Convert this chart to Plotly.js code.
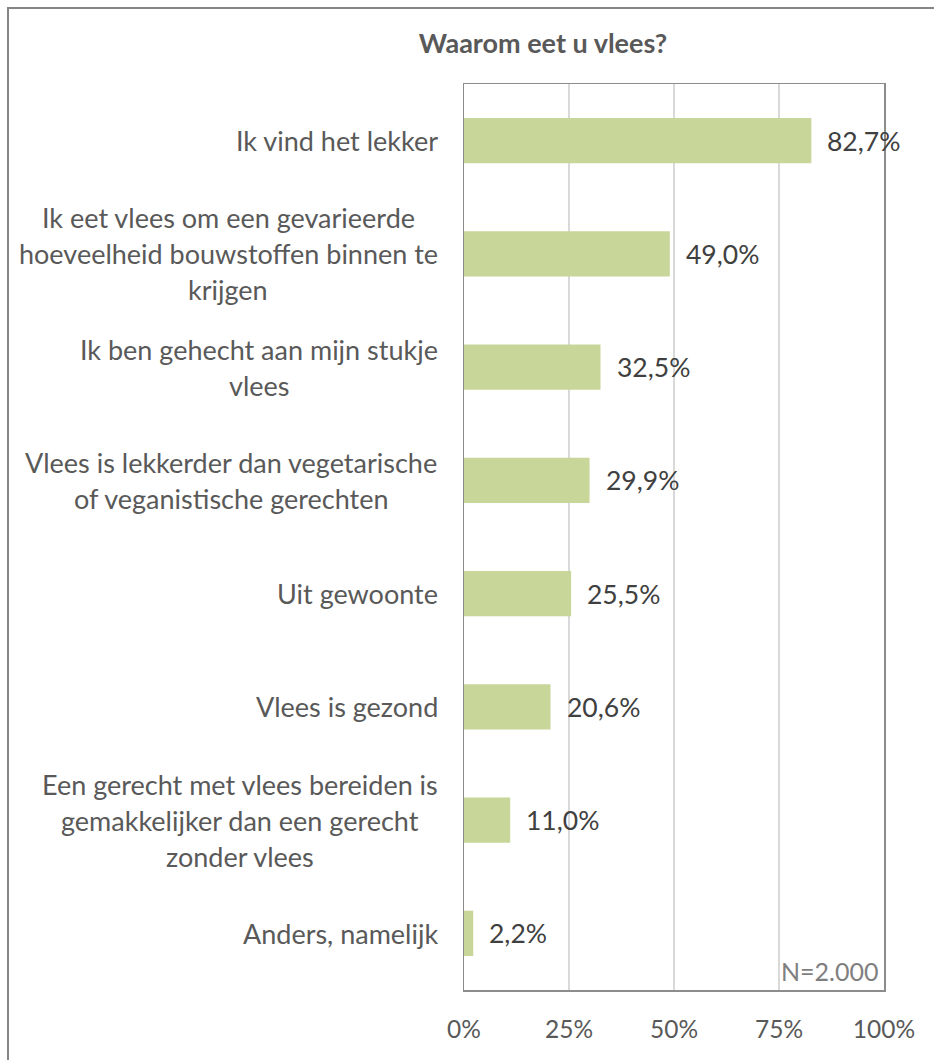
<!DOCTYPE html>
<html>
<head>
<meta charset="utf-8">
<script src="https://cdn.plot.ly/plotly-3.0.1.min.js"></script>
<style>
  html, body { margin:0; padding:0; background:#fff; overflow:hidden; }
  #chart { position:absolute; left:0; top:0; width:934px; height:1060px; }
  #frame { position:absolute; left:7px; top:7px; width:1000px; height:1100px;
           border:2px solid #858585; pointer-events:none; box-sizing:border-box; }
</style>
</head>
<body>
<div id="chart"></div>
<div id="frame"></div>
<script>
const chartTitle = "Waarom eet u vlees?";
const categories = [
  ["Ik vind het lekker"],
  ["Ik eet vlees om een gevarieerde", "hoeveelheid bouwstoffen binnen te", "krijgen"],
  ["Ik ben gehecht aan mijn stukje", "vlees"],
  ["Vlees is lekkerder dan vegetarische", "of veganistische gerechten"],
  ["Uit gewoonte"],
  ["Vlees is gezond"],
  ["Een gerecht met vlees bereiden is", "gemakkelijker dan een gerecht", "zonder vlees"],
  ["Anders, namelijk"]
];
const values = [82.7, 49.0, 32.5, 29.9, 25.5, 20.6, 11.0, 2.2];
const valueLabels = ["82,7%", "49,0%", "32,5%", "29,9%", "25,5%", "20,6%", "11,0%", "2,2%"];
const tickVals = [0, 25, 50, 75, 100];
const tickText = ["0%", "25%", "50%", "75%", "100%"];
const sampleNote = "N=2.000";

const FONT = "Lato";
const CAT_FS = 27;
const VAL_FS = 26.5;
const TICK_FS = 24.5;
const LINE = 36;
const catKeys = categories.map((c, i) => "c" + i);

const ctx = document.createElement("canvas").getContext("2d");
ctx.font = CAT_FS + "px " + FONT;

const annotations = [];
categories.forEach((lines, i) => {
  const w = Math.max(...lines.map(l => ctx.measureText(l).width));
  const n = lines.length;
  lines.forEach((l, j) => {
    annotations.push({
      xref: "paper", yref: "y", x: 0, y: catKeys[i],
      xanchor: "center", yanchor: "middle",
      xshift: -(26 + w / 2),
      yshift: ((n - 1) / 2 - j) * LINE,
      text: l, showarrow: false,
      font: {family: FONT, size: CAT_FS, color: "#595959"}
    });
  });
});
values.forEach((v, i) => {
  annotations.push({
    xref: "x", yref: "y", x: v, y: catKeys[i],
    xanchor: "left", yanchor: "middle", xshift: 14,
    text: valueLabels[i], showarrow: false,
    font: {family: FONT, size: VAL_FS, color: "#404040"}
  });
});
annotations.push({
  xref: "paper", yref: "paper", x: 1, y: 0,
  xanchor: "right", yanchor: "bottom", xshift: -3, yshift: 2,
  text: sampleNote, showarrow: false,
  font: {family: FONT, size: 25, color: "#7f7f7f"}
});

const trace = {
  type: "bar", orientation: "h",
  x: values, y: catKeys,
  width: 0.4,
  marker: {color: "#c9d699"},
  hoverinfo: "none"
};

const layout = {
  width: 934, height: 1060,
  margin: {l: 464, r: 50, t: 84, b: 70, pad: 0},
  paper_bgcolor: "#ffffff", plot_bgcolor: "#ffffff",
  showlegend: false,
  title: {
    text: "<b>" + chartTitle + "</b>",
    x: 543 / 934, xanchor: "center",
    yref: "container", y: 1 - 44 / 1060, yanchor: "middle",
    font: {family: FONT, size: 27, color: "#595959"}
  },
  xaxis: {
    range: [0, 100], tickvals: tickVals, ticktext: tickText,
    showgrid: true, gridcolor: "#d9d9d9", gridwidth: 1.5,
    zeroline: false, showline: true, mirror: true,
    linecolor: "#8c8c8c", linewidth: 1.5,
    ticks: "", ticklabelstandoff: 17,
    tickfont: {family: FONT, size: TICK_FS, color: "#595959"},
    fixedrange: true
  },
  yaxis: {
    type: "category", autorange: "reversed",
    showticklabels: false, showgrid: false, zeroline: false,
    showline: true, mirror: true, linecolor: "#8c8c8c", linewidth: 1.5,
    ticks: "", fixedrange: true
  },
  annotations: annotations
};

Plotly.newPlot("chart", [trace], layout, {displayModeBar: false, staticPlot: true});
</script>
</body>
</html>
